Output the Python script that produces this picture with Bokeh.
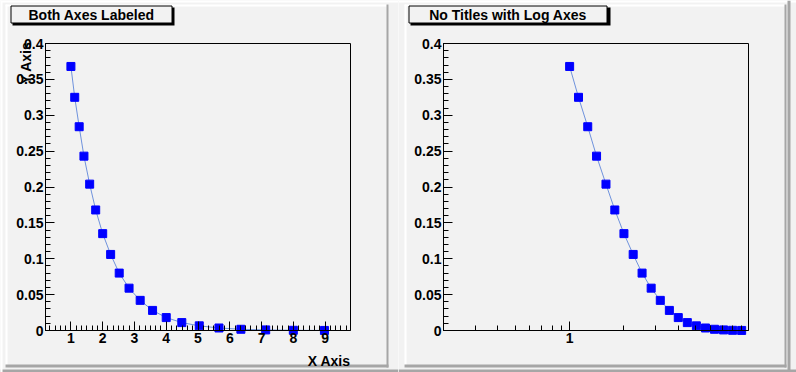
import numpy as np
from bokeh.plotting import figure
from bokeh.layouts import row
from bokeh.models import (BoxAnnotation, Label, FixedTicker, NumeralTickFormatter,
                          ColumnDataSource, LinearAxis, LogAxis)
from bokeh.embed import file_html
from bokeh.resources import INLINE

# ---- data ----
x_vals = [1.0, 1.12, 1.26, 1.41, 1.59, 1.78, 2.0, 2.25, 2.52, 2.83,
          3.18, 3.57, 4.0, 4.49, 5.04, 5.66, 6.35, 7.13, 8.0, 8.98]
y_vals = [0.368, 0.325, 0.284, 0.243, 0.204, 0.168, 0.135, 0.106, 0.080, 0.059,
          0.042, 0.028, 0.018, 0.011, 0.0065, 0.0035, 0.0017, 0.0008, 0.0003, 0.0001]
titles = ["Both Axes Labeled", "No Titles with Log Axes"]
x_axis_title = "X Axis"
y_axis_title = "Y Axis"
y_ticks = [0, 0.05, 0.1, 0.15, 0.2, 0.25, 0.3, 0.35, 0.4]
x_ticks_lin = [1, 2, 3, 4, 5, 6, 7, 8, 9]
x_ticks_log = [1]
x_lo, x_hi = 0.2, 9.8
y_lo, y_hi = 0.0, 0.4

BG = "#f2f2f2"
GRAY = "#a6a6a6"
FONT = "Liberation Sans"
W, H = 398, 372
# inner frame in pixels (within each half)
FL, FR, FT, FB = 45, 350, 43, 330

y_minor = [round(v, 3) for v in np.arange(0, 0.4001, 0.01)]
x_minor_lin = [round(v, 4) for v in np.arange(1/3, 9.8, 1/6)]
x_minor_log = [0.3, 0.4, 0.5, 0.6, 0.7, 0.8, 0.9, 2, 3, 4, 5, 6, 7, 8, 9]


def outer_range(lo, hi, p_lo, p_hi, total, log=False, flip=False):
    # extend [lo, hi] (mapped to pixels p_lo..p_hi) to cover 0..total pixels
    if log:
        lo, hi = np.log10(lo), np.log10(hi)
    d = (hi - lo) / (p_hi - p_lo)
    if flip:  # y: p_lo is pixel of hi (top)
        start = lo - (total - p_hi) * d
        end = hi + p_lo * d
    else:
        start = lo - p_lo * d
        end = hi + (total - p_hi) * d
    if log:
        return 10 ** start, 10 ** end
    return start, end


def box(p, l, r, t, b, color, line=None):
    p.add_layout(BoxAnnotation(left=l, right=r, top=t, bottom=b,
                               left_units="canvas", right_units="canvas",
                               top_units="canvas", bottom_units="canvas",
                               fill_color=color, fill_alpha=1,
                               line_color=line, line_width=1, line_alpha=1,
                               level="overlay"))


def label(p, x, y, text, align="center", baseline="middle", angle=0.0):
    p.add_layout(Label(x=x, y=y, x_units="canvas", y_units="canvas", text=text,
                       text_font=FONT, text_font_style="bold", text_font_size="14px",
                       text_align=align, text_baseline=baseline, angle=angle,
                       text_color="black", level="overlay"))


def style_axis(ax):
    ax.axis_line_color = "black"
    ax.major_tick_line_color = "black"
    ax.minor_tick_line_color = "black"
    ax.major_tick_in = 9
    ax.major_tick_out = 0
    ax.minor_tick_in = 5
    ax.minor_tick_out = 0
    ax.major_label_text_font = FONT
    ax.major_label_text_font_style = "bold"
    ax.major_label_text_font_size = "14px"
    ax.major_label_text_color = "black"
    ax.major_label_standoff = 2


def make(kind, left_pad, right_pad, outer_right):
    log = kind == "log"
    xr = outer_range(x_lo, x_hi, FL, FR, W, log=log)
    yr = outer_range(y_lo, y_hi, FT, FB, H, flip=True)
    p = figure(width=W, height=H, x_range=xr, y_range=yr,
               x_axis_type="log" if log else "linear",
               x_axis_location=None, y_axis_location=None,
               output_backend="svg", toolbar_location=None, min_border=0)
    p.background_fill_color = BG
    p.border_fill_color = BG
    p.outline_line_color = None
    p.grid.visible = False

    # inner frame box
    p.quad(left=[x_lo], right=[x_hi], bottom=[y_lo], top=[y_hi],
           fill_alpha=0, line_color="black", line_width=1)

    if log:
        xa = LogAxis(fixed_location=y_lo, bounds=(x_lo, x_hi),
                     ticker=FixedTicker(ticks=x_ticks_log, minor_ticks=x_minor_log))
    else:
        xa = LinearAxis(fixed_location=y_lo, bounds=(x_lo, x_hi),
                        ticker=FixedTicker(ticks=x_ticks_lin, minor_ticks=x_minor_lin))
    xa.formatter = NumeralTickFormatter(format="0")
    ya = LinearAxis(fixed_location=x_lo, bounds=(y_lo, y_hi),
                    ticker=FixedTicker(ticks=y_ticks, minor_ticks=y_minor),
                    formatter=NumeralTickFormatter(format="0.[00]"))
    style_axis(xa)
    style_axis(ya)
    p.add_layout(xa, "below")
    p.add_layout(ya, "left")

    src = ColumnDataSource(dict(x=x_vals, y=y_vals))
    p.line("x", "y", source=src, line_color="#6f92dc", line_width=1)
    p.scatter("x", "y", source=src, marker="square", size=8,
              fill_color="#0000ff", line_color="#0000ff")

    # pad bevel
    box(p, left_pad, right_pad, 4, 6, "white")
    box(p, left_pad, left_pad + 2, 4, 367, "white")
    box(p, right_pad - 2, right_pad, 4, 367, GRAY)
    box(p, left_pad, right_pad, 364, 367, GRAY)
    # canvas bevel
    box(p, 0, W, 0, 2, "white")
    box(p, 0, W, 369, 372, GRAY)
    if outer_right:
        box(p, W - 9, W - 6, 0, 372, GRAY)
    else:
        box(p, 0, 2, 0, 372, "white")
    return p


p1 = make("lin", 5, 388, False)
p2 = make("log", 6, 388, True)

# title boxes
box(p1, 12, 174, 7, 25, "black")
box(p1, 10.5, 171.5, 5.5, 22.5, BG, "black")
label(p1, 91, 14.5, titles[0])
box(p2, 12, 212, 7, 25, "black")
box(p2, 10.5, 208.5, 5.5, 22.5, BG, "black")
label(p2, 109.5, 14.5, titles[1])

# axis titles (left pad only)
label(p1, 350, 360, x_axis_title, align="right", baseline="alphabetic")
label(p1, 25, 41, y_axis_title, align="right", baseline="alphabetic", angle=np.pi / 2)

layout = row(p1, p2)
open("out.html", "w").write(file_html(layout, INLINE))
